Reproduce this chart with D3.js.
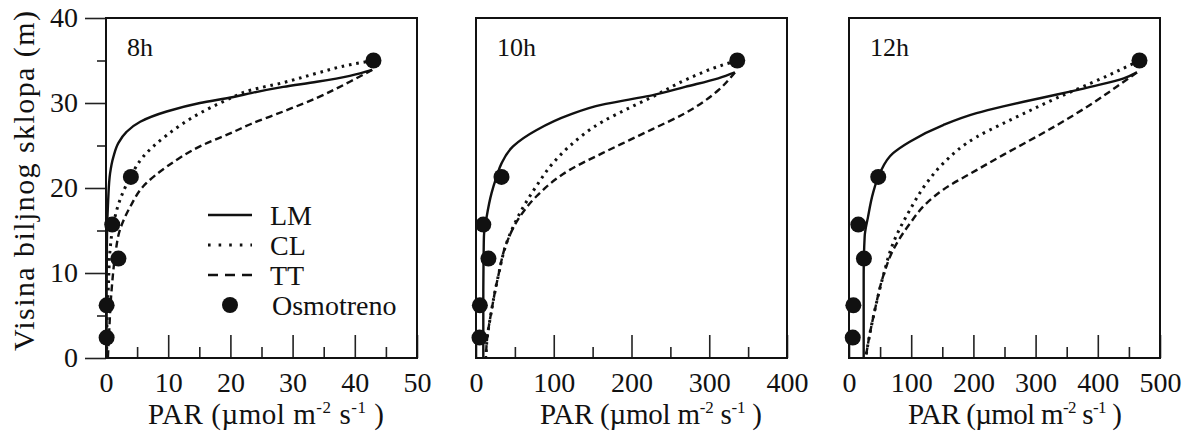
<!DOCTYPE html>
<html><head><meta charset="utf-8">
<script src="https://cdn.jsdelivr.net/npm/d3@7"></script>
<style>
html,body{margin:0;padding:0;background:#fff;}
svg{display:block;}
svg text{font-family:"Liberation Serif","Tinos","Times New Roman","DejaVu Serif","Noto Serif",serif !important;fill:#111;}
</style></head><body>
<svg id="chart" width="1194" height="443"></svg>
<script>
// Panels: hour of day, PAR axis maximum and major tick step
const panelLabels = ["8h", "10h", "12h"];
const parMax = [50, 400, 500];
const parMajorStep = [10, 100, 100];
const heightTicks = [0, 10, 20, 30, 40];
const heightMinorTicks = [5, 15, 25, 35];

// Observed PAR at measurement heights (m)
const obsHeights = [2.4, 6.2, 11.7, 15.7, 21.3, 35];
const obs8h  = [0.1, 0.1, 2.0, 1.0, 4.0, 43];
const obs10h = [4.5, 5.0, 16, 9.4, 32.8, 336];
const obs12h = [6, 7, 24, 15, 47, 467];

// Modelled profiles, [PAR, height]
const lm8h = [[0.1,0],[0.1,8],[0.15,14],[0.35,18.6],[0.65,21.7],[1.2,23.7],[2.0,25.3],[3.3,26.6],[5.5,27.8],[9.75,29.0],[15.1,30.0],[20.5,30.7],[23.5,31.2],[28.5,31.9],[33.9,32.5],[39.2,33.2],[42.8,33.9]];
const cl8h = [[0.1,0],[0.15,4],[0.4,8.8],[0.65,12.7],[1.2,15.8],[2.25,18.6],[4.0,21.4],[6.0,23.7],[9.75,26.2],[15.1,28.8],[19.4,30.35],[23.2,31.5],[28.5,32.4],[33.9,33.5],[39.2,34.5],[43,35]];
const tt8h = [[0.3,0],[0.5,3],[0.9,8],[1.45,11.9],[2.25,15.1],[3.9,17.8],[6.0,20.2],[9.75,22.5],[15.1,24.9],[20.5,26.6],[23.2,27.5],[28.5,29.0],[33.9,30.6],[39.2,32.5],[42.8,33.9]];

const lm10h = [[9.4,0],[9.4,8],[9.8,12],[10.2,14.3],[13.7,16.6],[20,19.4],[26.4,21.3],[32.8,22.9],[47.6,24.9],[77.5,26.8],[120,28.6],[162.6,29.8],[196.7,30.4],[226.4,30.9],[269,31.9],[311.6,32.9],[333,33.6]];
const cl10h = [[12.8,0],[13.7,1.7],[20,5.6],[28.5,9.6],[39.2,13.5],[56.2,17.0],[77.5,20.2],[98.7,22.9],[120,24.9],[162.6,27.8],[196.7,29.4],[226.4,30.7],[269,32.7],[311.6,34.3],[336,35]];
const tt10h = [[12.8,0],[13.7,1.7],[20,5.6],[28.5,9.6],[39.2,13.5],[56.2,16.6],[77.5,19.0],[120,22.1],[162.6,24.1],[196.7,25.6],[226.4,26.9],[269,28.8],[311.6,31.5],[333,33.6]];

const lm12h = [[23.6,0],[23.6,9.8],[25.2,14.3],[30.6,16.6],[38.6,19.4],[49.4,21.7],[70.9,24.1],[97.7,25.45],[151.4,27.4],[205,28.8],[248,29.6],[280.7,30.15],[334.4,31.0],[388,31.9],[441.7,32.9],[463,33.6]];
const cl12h = [[26.8,0],[30.6,1.7],[41.4,5.6],[54.8,9.6],[70.9,13.5],[97.7,17.4],[124.5,20.55],[151.4,22.9],[205,26.0],[248,27.6],[280.7,28.75],[334.4,30.6],[388,32.3],[441.7,34.1],[467,35]];
const tt12h = [[26.8,0],[30.6,1.7],[41.4,5.6],[54.8,9.6],[70.9,12.7],[97.7,15.8],[124.5,18.2],[151.4,19.8],[205,22.1],[248,23.9],[280.7,25.2],[334.4,27.4],[388,29.8],[441.7,32.5],[463,33.6]];

const seriesNames = ["LM", "CL", "TT"];
const obsName = "Osmotreno";
const panelData = [
  {obs: obs8h,  curves: [lm8h,  cl8h,  tt8h]},
  {obs: obs10h, curves: [lm10h, cl10h, tt10h]},
  {obs: obs12h, curves: [lm12h, cl12h, tt12h]}
];

// Layout
const FONT = '"Liberation Serif", "Tinos", "Times New Roman", "DejaVu Serif", serif';
const panelLeft = [106, 476, 849];
const panelWidth = 311;
const plotTop = 18, plotBottom = 358;
const titleX = [266, 651, 1015];
const titleLen = [236, 222, 214];
const lineStyles = [
  {dash: null,    width: 2.4},
  {dash: "2.6,4.8", width: 3},
  {dash: "7,4",   width: 2.4}
];

const svg = d3.select("#chart").attr("font-family", FONT);
const y = d3.scaleLinear().domain([0, 40]).range([plotBottom, plotTop]);

panelData.forEach((pd, i) => {
  const left = panelLeft[i];
  const x = d3.scaleLinear().domain([0, parMax[i]]).range([left, left + panelWidth]);
  const g = svg.append("g");

  // inward x ticks
  const majors = d3.range(0, parMax[i] + 1e-9, parMajorStep[i]);
  const minors = d3.range(parMajorStep[i] / 2, parMax[i], parMajorStep[i]);
  const xMinor = g.append("g").attr("transform", `translate(0,${plotBottom})`)
    .call(d3.axisBottom(x).tickValues(minors).tickSizeInner(-11).tickSizeOuter(0).tickFormat(""));
  const xMajor = g.append("g").attr("transform", `translate(0,${plotBottom})`)
    .call(d3.axisBottom(x).tickValues(majors).tickSizeInner(-23).tickSizeOuter(0).tickPadding(14).tickFormat(d3.format("d")));
  [xMinor, xMajor].forEach(a => {
    a.attr("font-family", FONT);
    a.select(".domain").remove();
    a.selectAll("line").attr("stroke", "#222").attr("stroke-width", 1.6);
  });
  xMajor.selectAll("text").attr("font-size", 28).attr("fill", "#111");

  // y axis only on first panel, outward ticks
  if (i === 0) {
    const yMinor = g.append("g").attr("transform", `translate(${left},0)`)
      .call(d3.axisLeft(y).tickValues(heightMinorTicks).tickSizeInner(9).tickSizeOuter(0).tickFormat(""));
    const yMajor = g.append("g").attr("transform", `translate(${left},0)`)
      .call(d3.axisLeft(y).tickValues(heightTicks).tickSizeInner(21).tickSizeOuter(0).tickPadding(7).tickFormat(d3.format("d")));
    [yMinor, yMajor].forEach(a => {
      a.attr("font-family", FONT);
      a.select(".domain").remove();
      a.selectAll("line").attr("stroke", "#222").attr("stroke-width", 1.6);
    });
    yMajor.selectAll("text").attr("font-size", 28).attr("fill", "#111");
  }

  // frame
  g.append("rect").attr("x", left).attr("y", plotTop)
    .attr("width", panelWidth).attr("height", plotBottom - plotTop)
    .attr("fill", "none").attr("stroke", "#111").attr("stroke-width", 2);

  // model curves
  const line = d3.line().x(d => x(d[0])).y(d => y(d[1])).curve(d3.curveMonotoneY);
  pd.curves.forEach((c, k) => {
    const pts = c.slice().sort((a, b) => b[1] - a[1]);
    g.append("path").attr("d", line(pts))
      .attr("fill", "none").attr("stroke", "#111")
      .attr("stroke-width", lineStyles[k].width)
      .attr("stroke-dasharray", lineStyles[k].dash);
  });

  // observations
  g.selectAll("circle.obs").data(obsHeights.map((h, j) => [pd.obs[j], h]))
    .join("circle").attr("class", "obs")
    .attr("cx", d => x(d[0])).attr("cy", d => y(d[1])).attr("r", 8)
    .attr("fill", "#111");

  // panel label
  g.append("text").attr("x", left + 21).attr("y", 56)
    .attr("font-size", 26).text(panelLabels[i]);

  // x title
  const t = g.append("text").attr("x", titleX[i]).attr("y", 424)
    .attr("text-anchor", "middle").attr("font-size", 29)
    .attr("textLength", titleLen[i]).attr("lengthAdjust", "spacing");
  t.append("tspan").text("PAR (µmol m");
  t.append("tspan").attr("dy", -11).attr("font-size", 17).text("-2");
  t.append("tspan").attr("dy", 11).text(" s");
  t.append("tspan").attr("dy", -11).attr("font-size", 17).text("-1");
  t.append("tspan").attr("dy", 11).text(" )");
});

// y title
svg.append("text").attr("transform", "translate(34,181) rotate(-90)")
  .attr("text-anchor", "middle").attr("font-size", 30)
  .attr("textLength", 340).attr("lengthAdjust", "spacing")
  .text("Visina biljnog sklopa (m)");

// legend in first panel
const legendRows = [215, 245, 275, 305];
const lg = svg.append("g");
seriesNames.forEach((name, k) => {
  lg.append("line").attr("x1", 208).attr("x2", 252)
    .attr("y1", legendRows[k]).attr("y2", legendRows[k])
    .attr("stroke", "#111").attr("stroke-width", lineStyles[k].width)
    .attr("stroke-dasharray", k === 1 ? "2.6,8" : (k === 2 ? "10,7" : null));
  lg.append("text").attr("x", 270).attr("y", legendRows[k]).attr("dy", "0.35em")
    .attr("font-size", 28).text(name);
});
lg.append("circle").attr("cx", 230).attr("cy", legendRows[3]).attr("r", 8).attr("fill", "#111");
lg.append("text").attr("x", 272).attr("y", legendRows[3]).attr("dy", "0.35em")
  .attr("font-size", 28).text(obsName);
</script>
</body></html>
